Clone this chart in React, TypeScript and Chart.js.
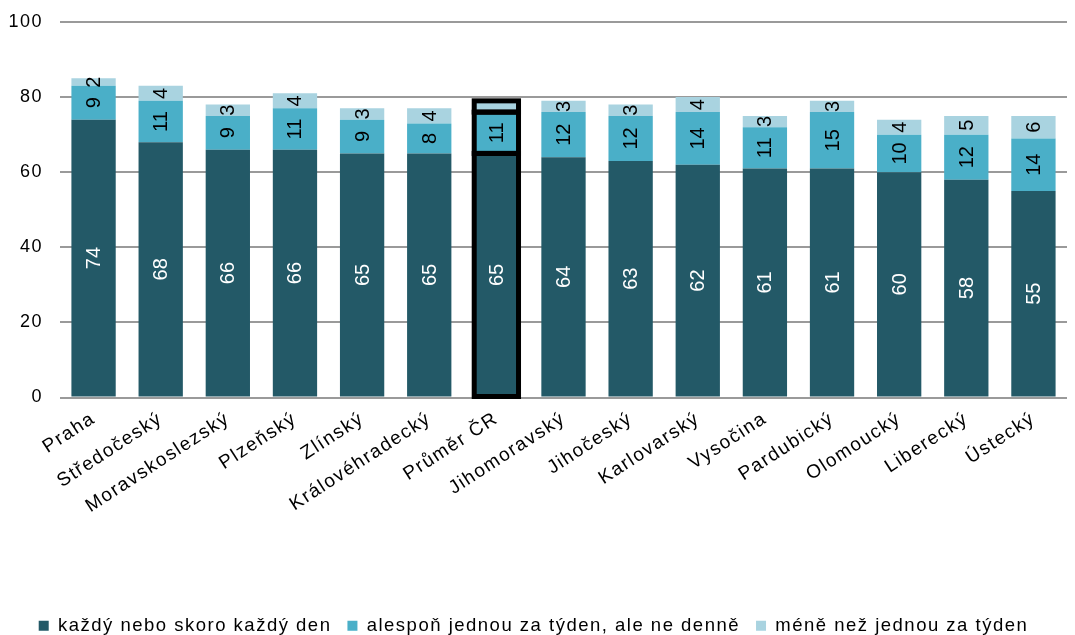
import React, { useEffect, useRef } from "react";
import { Chart, registerables } from "chart.js";

Chart.register(...registerables);

const categories = [
  "Praha",
  "Středočeský",
  "Moravskoslezský",
  "Plzeňský",
  "Zlínský",
  "Královéhradecký",
  "Průměr ČR",
  "Jihomoravský",
  "Jihočeský",
  "Karlovarský",
  "Vysočina",
  "Pardubický",
  "Olomoucký",
  "Liberecký",
  "Ústecký",
];

const daily = [74, 68, 66, 66, 65, 65, 65, 64, 63, 62, 61, 61, 60, 58, 55];
const weekly = [9, 11, 9, 11, 9, 8, 11, 12, 12, 14, 11, 15, 10, 12, 14];
const lessThanWeekly = [2, 4, 3, 4, 3, 4, 3, 3, 3, 4, 3, 3, 4, 5, 6];

const seriesNames = [
  "každý nebo skoro každý den",
  "alespoň jednou za týden, ale ne denně",
  "méně než jednou za týden",
];

const highlightIndex = 6;
const hiddenLabels: Record<string, boolean> = { "2-6": true };

const FONT = "'Liberation Sans', Arial, sans-serif";
const SPACING = "1.5px";

const spacingPlugin = {
  id: "letterSpacing",
  beforeUpdate(chart: any) {
    chart.ctx.letterSpacing = SPACING;
  },
  beforeDraw(chart: any) {
    chart.ctx.letterSpacing = SPACING;
  },
};

const barLabelPlugin = {
  id: "barLabels",
  afterDatasetsDraw(chart: any) {
    const ctx = chart.ctx;
    // outline for the highlighted (average) bar
    ctx.save();
    ctx.strokeStyle = "#000000";
    ctx.lineWidth = 5;
    chart.data.datasets.forEach((_ds: any, di: number) => {
      const bar = chart.getDatasetMeta(di).data[highlightIndex];
      if (!bar) return;
      const w = bar.width;
      ctx.strokeRect(bar.x - w / 2, bar.y, w, bar.base - bar.y);
    });
    ctx.restore();

    chart.data.datasets.forEach((ds: any, di: number) => {
      const meta = chart.getDatasetMeta(di);
      meta.data.forEach((bar: any, i: number) => {
        if (hiddenLabels[`${di}-${i}`]) return;
        const v = ds.data[i];
        const x = bar.x;
        const y = (bar.y + bar.base) / 2;
        ctx.save();
        ctx.letterSpacing = "0px";
        ctx.translate(x, y);
        ctx.rotate(-Math.PI / 2);
        ctx.fillStyle = di === 0 ? "#ffffff" : "#000000";
        ctx.font = `20px ${FONT}`;
        ctx.textAlign = "center";
        ctx.textBaseline = "middle";
        ctx.fillText(String(v), 0, 1);
        ctx.restore();
      });
    });
  },
};

export default function App() {
  const ref = useRef<HTMLCanvasElement | null>(null);
  useEffect(() => {
    if (!ref.current) return;
    const colors = ["#235967", "#4aafc8", "#a9d3e0"];
    const chart = new Chart(ref.current, {
      type: "bar",
      data: {
        labels: categories,
        datasets: [daily, weekly, lessThanWeekly].map((d, di) => ({
          label: seriesNames[di],
          data: d,
          backgroundColor: colors[di],
          borderWidth: 0,
          categoryPercentage: 1,
          barPercentage: 0.66,
        })),
      },
      options: {
        animation: false,
        responsive: false,
        maintainAspectRatio: false,
        layout: { padding: { top: 22, right: 8, left: 0, bottom: -10 } },
        plugins: {
          legend: {
            position: "bottom",
            labels: {
              boxWidth: 10,
              boxHeight: 10,
              color: "#000",
              font: { size: 18.5, family: FONT },
              padding: 16,
            },
          },
          tooltip: { enabled: false },
        },
        scales: {
          x: {
            stacked: true,
            grid: { display: false },
            border: { display: false },
            ticks: {
              color: "#000",
              font: { size: 19, family: FONT },
              maxRotation: 33,
              minRotation: 33,
              autoSkip: false,
              padding: 2,
            },
            afterFit(scale: any) {
              scale.height = 203;
            },
          },
          y: {
            stacked: true,
            min: 0,
            max: 100,
            border: { display: false },
            grid: { color: "#9a9a9a", lineWidth: 2, drawTicks: false },
            ticks: {
              stepSize: 20,
              color: "#000",
              font: { size: 18, family: FONT },
              padding: 17,
            },
            afterFit(scale: any) {
              scale.width = 60;
              scale.paddingTop = 0;
              scale.paddingBottom = 0;
            },
          },
        },
      },
      plugins: [spacingPlugin, barLabelPlugin],
    });
    return () => chart.destroy();
  }, []);
  return (
    <div style={{ position: "absolute", left: 0, top: 0, width: 1075, height: 635, background: "#fff" }}>
      <canvas ref={ref} width={1075} height={635} style={{ width: 1075, height: 635 }} />
    </div>
  );
}
